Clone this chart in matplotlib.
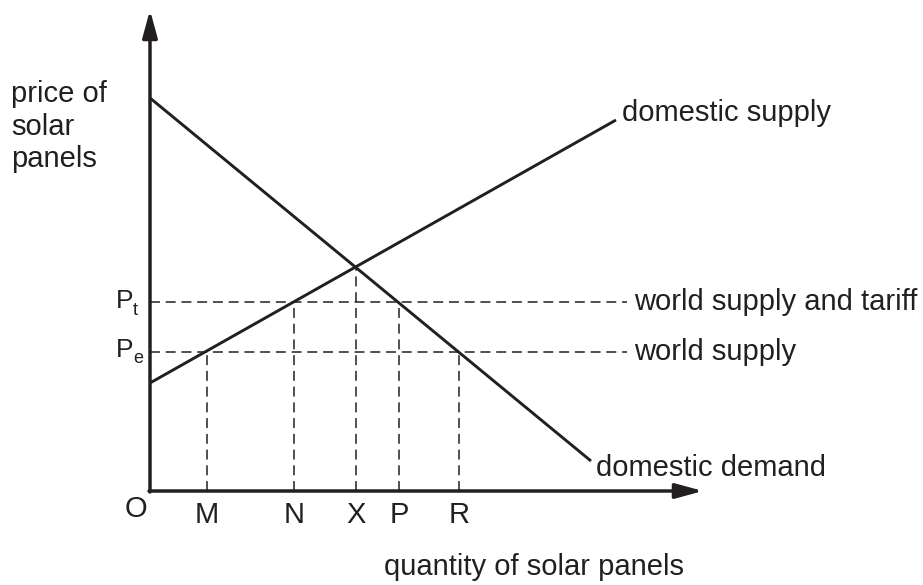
import matplotlib.pyplot as plt

plt.rcParams['font.family'] = ['Liberation Sans', 'DejaVu Sans']
INK = '#231f20'

# quantities on the x axis
q_labels = ['M', 'N', 'X', 'P', 'R']
q_values = [5.7, 14.4, 20.6, 24.9, 30.9]

# prices
p_world = 13.9          # Pe
p_tariff = 18.9         # Pt
p_equil = 22.3          # domestic equilibrium

# curves (endpoints)
supply_q = [0, 46.6]
supply_p = [10.8, 37.1]
demand_q = [0, 44.1]
demand_p = [39.3, 3.0]

# which price each vertical dashed line reaches
q_tops = [p_world, p_tariff, p_equil, p_tariff, p_world]

fig = plt.figure(figsize=(9.23, 5.85), dpi=100)
ax = fig.add_axes([0, 0, 1, 1])
ax.set_xlim(-15, 77.3)
ax.set_ylim(-9.4, 49.1)
ax.axis('off')

# axes with arrow heads
arrow = dict(arrowstyle='-|>,head_length=1.65,head_width=0.45', lw=2.5,
             color=INK, mutation_scale=10, shrinkA=0, shrinkB=0)
ax.annotate('', xy=(0, 48.1), xytext=(0, -0.1), arrowprops=arrow)
ax.annotate('', xy=(55.3, 0), xytext=(-0.1, 0), arrowprops=arrow)

# supply and demand
ax.plot(supply_q, supply_p, color=INK, lw=2.1, solid_capstyle='butt')
ax.plot(demand_q, demand_p, color=INK, lw=2.1, solid_capstyle='butt')

# dashed price lines
dash = dict(color=INK, lw=1.1, linestyle=(0, (6.5, 3.8)))
ax.plot([0, 47.7], [p_tariff, p_tariff], **dash)
ax.plot([0, 47.7], [p_world, p_world], **dash)

# dashed quantity lines
for q, top in zip(q_values, q_tops):
    ax.plot([q, q], [0, top], **dash)

fs = 21
for lab, q in zip(q_labels, q_values):
    ax.text(q, -3.2, lab, fontsize=fs, ha='center', va='baseline', color=INK)
ax.text(-1.4, -2.6, 'O', fontsize=fs, ha='center', va='baseline', color=INK)

# price labels
ax.text(-3.4, 18.3, 'P', fontsize=19, ha='left', va='baseline', color=INK)
ax.text(-1.7, 17.6, 't', fontsize=13, ha='left', va='baseline', color=INK)
ax.text(-3.4, 13.4, 'P', fontsize=19, ha='left', va='baseline', color=INK)
ax.text(-1.7, 12.8, 'e', fontsize=13, ha='left', va='baseline', color=INK)

# curve labels
ax.text(47.2, 37.8, 'domestic supply', fontsize=fs, ha='left', va='center', color=INK)
ax.text(44.6, 2.3, 'domestic demand', fontsize=fs, ha='left', va='center', color=INK)
ax.text(48.4, p_tariff, 'world supply and tariff', fontsize=fs, ha='left', va='center', color=INK)
ax.text(48.4, p_world, 'world supply', fontsize=fs, ha='left', va='center', color=INK)

# axis titles
for line, y in zip(['price of', 'solar', 'panels'], [38.9, 35.6, 32.4]):
    ax.text(-13.9, y, line, fontsize=fs, ha='left', va='baseline', color=INK)
ax.text(38.4, -8.4, 'quantity of solar panels', fontsize=fs, ha='center', va='baseline', color=INK)

fig.savefig('out.png', dpi=100)
